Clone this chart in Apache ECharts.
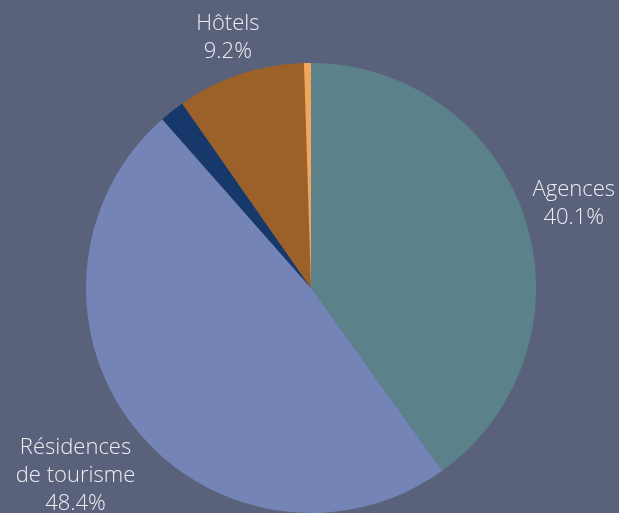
<!DOCTYPE html>
<html>
<head>
<meta charset="utf-8">
<script src="https://cdn.jsdelivr.net/npm/echarts@6/dist/echarts.min.js"></script>
<style>
  html, body { margin: 0; padding: 0; background: #59627a; }
  #chart { width: 619px; height: 513px; }
</style>
</head>
<body>
<div id="chart"></div>
<script>
var categories = ['Agences', 'Résidences\nde tourisme', 'Autres', 'Hôtels', 'Divers'];
var values = [40.1, 48.4, 1.8, 9.2, 0.5];
var labelled = [true, true, false, true, false];
var colors = ['#5b828b', '#7584b7', '#16386a', '#9c6128', '#f4a55c'];

var CX = 311, CY = 288, R = 225;
var total = values.reduce(function (a, b) { return a + b }, 0);

// angle au milieu de chaque part (depuis le haut, sens horaire)
var midAngles = [];
var acc = 0;
values.forEach(function (v) {
  midAngles.push((acc + v / 2) / total * Math.PI * 2);
  acc += v;
});

var myChart = echarts.init(document.getElementById('chart'));
var option = {
  backgroundColor: '#59627a',
  animation: false,
  series: [{
    type: 'pie',
    center: [CX, CY],
    radius: [0, R],
    startAngle: 90,
    clockwise: true,
    avoidLabelOverlap: false,
    label: {
      position: 'outside',
      color: '#eceef2',
      fontFamily: 'Open Sans',
      fontWeight: 300,
      fontSize: 22,
      lineHeight: 28,
      formatter: function (p) {
        return p.name + '\n' + p.value.toFixed(1) + '%'
      }
    },
    labelLine: { show: false },
    labelLayout: function (p) {
      var i = p.dataIndex;
      var a = midAngles[i];
      var dx = Math.sin(a), dy = -Math.cos(a);
      var hw = p.labelRect.width / 2, hh = p.labelRect.height / 2;
      var d = R;
      for (; d < R + 200; d++) {
        var px = dx * d, py = dy * d;
        var nx = Math.max(Math.abs(px) - hw, 0);
        var ny = Math.max(Math.abs(py) - hh, 0);
        if (Math.sqrt(nx * nx + ny * ny) >= R + 3) break;
      }
      return {
        x: CX + dx * d,
        y: CY + dy * d,
        align: 'center',
        verticalAlign: 'middle'
      }
    },
    data: values.map(function (v, i) {
      return {
        value: v,
        name: categories[i],
        itemStyle: { color: colors[i] },
        label: { show: labelled[i] }
      }
    })
  }]
};
myChart.setOption(option);
</script>
</body>
</html>
